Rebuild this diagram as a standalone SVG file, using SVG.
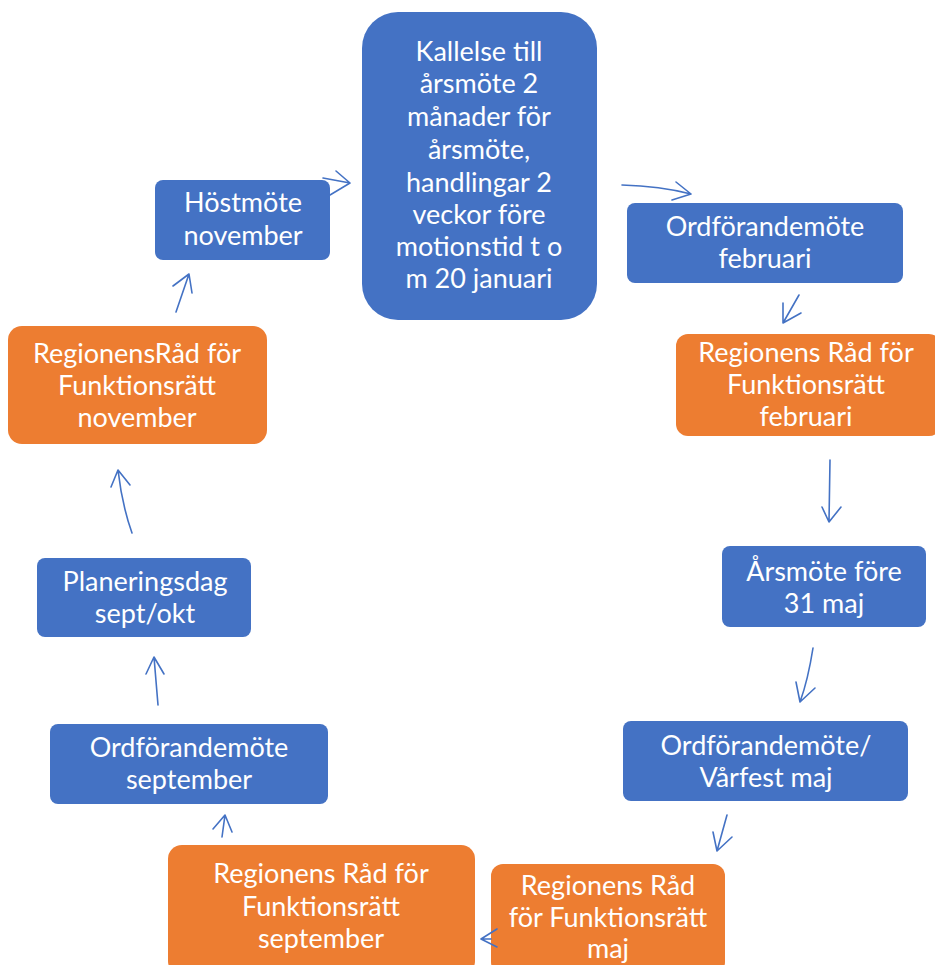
<svg xmlns="http://www.w3.org/2000/svg" width="935" height="965" viewBox="0 0 935 965">
<style>
.b{fill:#4472C4}
.o{fill:#ED7D31}
text{font-family:Lato,"Open Sans","Liberation Sans",sans-serif;font-size:27px;fill:#fff;text-anchor:middle}
.c path{fill:none;stroke:#4472C4;stroke-width:1.6;stroke-linecap:round;stroke-linejoin:round}
</style>
<rect width="935" height="965" fill="#fff"/>
<g id="kallelse"><rect class="b" x="362" y="12" width="235" height="308" rx="36"/>
<text x="479" y="61">Kallelse till</text><text x="479" y="93">årsmöte 2</text><text x="479" y="126">månader för</text><text x="479" y="159">årsmöte,</text><text x="479" y="192">handlingar 2</text><text x="479" y="224">veckor före</text><text x="479" y="256">motionstid t o</text><text x="479" y="288">m 20 januari</text></g>
<g id="ordf-feb"><rect class="b" x="627" y="203" width="276" height="80" rx="8"/>
<text x="765" y="236">Ordförandemöte</text><text x="765" y="268">februari</text></g>
<g id="rad-feb"><rect class="o" x="676" y="334" width="265" height="102" rx="12"/>
<text x="806" y="362">Regionens Råd för</text><text x="806" y="394">Funktionsrätt</text><text x="806" y="426">februari</text></g>
<g id="arsmote"><rect class="b" x="722" y="546" width="204" height="81" rx="8"/>
<text x="824" y="581">Årsmöte före</text><text x="824" y="613">31 maj</text></g>
<g id="ordf-maj"><rect class="b" x="623" y="721" width="285" height="80" rx="8"/>
<text x="766" y="755">Ordförandemöte/</text><text x="766" y="787">Vårfest maj</text></g>
<g id="rad-maj"><rect class="o" x="491" y="864" width="234" height="110" rx="12"/>
<text x="608" y="895">Regionens Råd</text><text x="608" y="927">för Funktionsrätt</text><text x="608" y="958">maj</text></g>
<g id="rad-sep"><rect class="o" x="168" y="845" width="307" height="130" rx="14"/>
<text x="321" y="883">Regionens Råd för</text><text x="321" y="916">Funktionsrätt</text><text x="321" y="948">september</text></g>
<g id="ordf-sep"><rect class="b" x="50" y="724" width="278" height="80" rx="8"/>
<text x="189" y="757">Ordförandemöte</text><text x="189" y="789">september</text></g>
<g id="plan"><rect class="b" x="37" y="558" width="214" height="79" rx="8"/>
<text x="145" y="591">Planeringsdag</text><text x="145" y="623">sept/okt</text></g>
<g id="rad-nov"><rect class="o" x="8" y="326" width="259" height="118" rx="14"/>
<text x="137" y="363">RegionensRåd för</text><text x="137" y="395">Funktionsrätt</text><text x="137" y="427">november</text></g>
<g id="host"><rect class="b" x="155" y="180" width="175" height="80" rx="8"/>
<text x="243" y="212">Höstmöte</text><text x="243" y="245">november</text></g>
<g class="c" id="connectors">
<path d="M323 178 L350 183 M336 171 L350 183 L330 195"/>
<path d="M622 185 Q660 186 691 194 M676 182 L691 194 L672 200"/>
<path d="M799 295 L783 323 M783 303 L783 323 L801 313"/>
<path d="M830 460 L829 522 M822 507 L829 522 L841 507"/>
<path d="M813 648 Q808 680 800 702 M796 682 L800 702 L815 688"/>
<path d="M727 815 L717 851 M713 832 L717 851 L732 837"/>
<path d="M491 939 L481 939 M497 929 L481 939 L497 947"/>
<path d="M222 837 L225 815 M213 829 L225 815 L232 832"/>
<path d="M158 705 L154 657 M146 674 L154 657 L164 674"/>
<path d="M132 533 Q122 505 118 470 M111 487 L118 470 L130 485"/>
<path d="M176 312 L189 274 M173 286 L189 274 L192 293"/>
</g>
</svg>
